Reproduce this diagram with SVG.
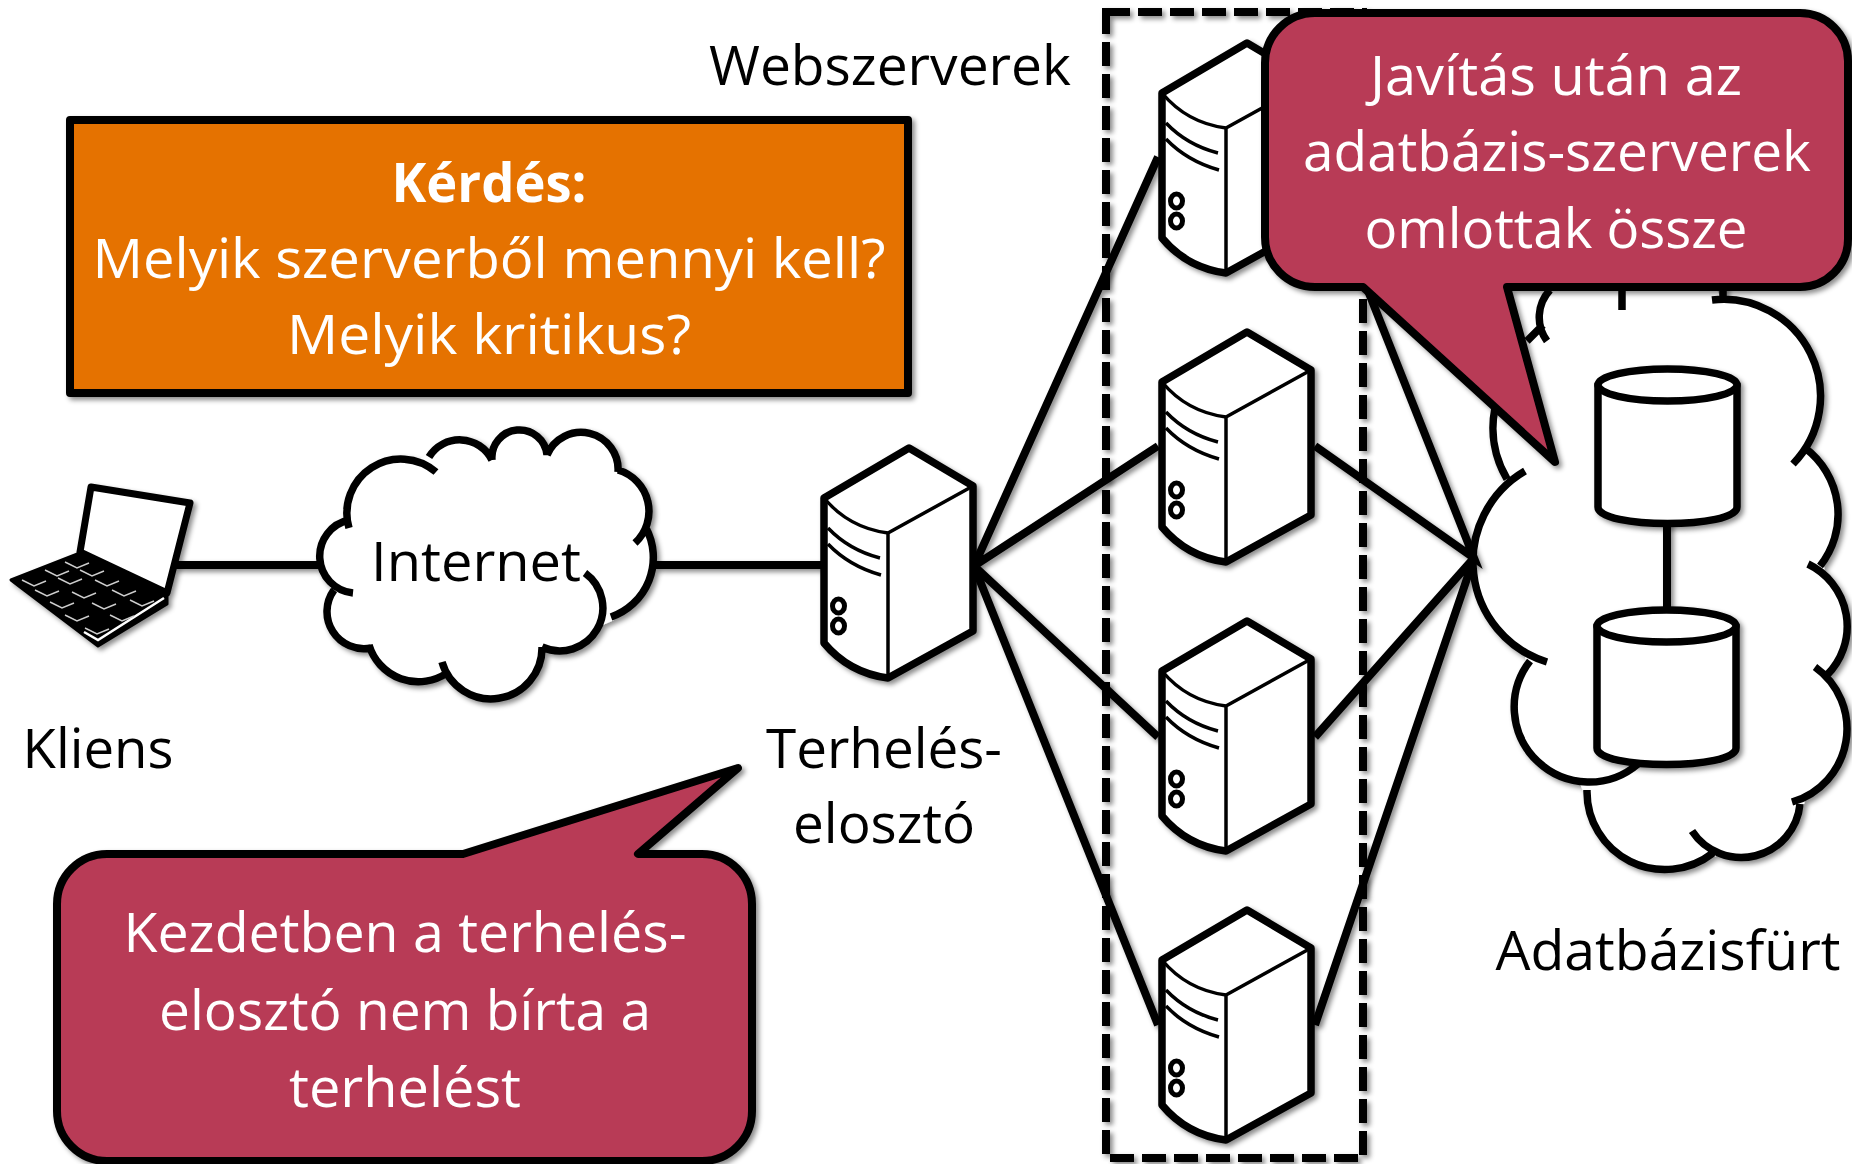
<svg xmlns="http://www.w3.org/2000/svg" xmlns:xlink="http://www.w3.org/1999/xlink" width="1852" height="1164" viewBox="0 0 1852 1164">
<defs>
<filter id="sh" x="-10%" y="-10%" width="125%" height="125%"><feDropShadow dx="3" dy="3" stdDeviation="2.5" flood-color="#000" flood-opacity="0.45"/></filter>
<g id="server">
<path d="M0,0 L85,-50 L149,-12 V133 L64,180 Q25,175 0,145 Z" fill="#fff" stroke="#000" stroke-width="7.5" stroke-linejoin="round"/>
<path d="M0,0 Q25,30 64,35 V180 M64,35 L149,-12" fill="none" stroke="#000" stroke-width="3.5"/>
<path d="M4,30 Q25,52 56,60 M4,46 Q25,68 57,77" fill="none" stroke="#000" stroke-width="3.5"/>
<ellipse cx="14.5" cy="108" rx="6" ry="7" fill="#fff" stroke="#000" stroke-width="5"/>
<ellipse cx="14.5" cy="128" rx="6" ry="7" fill="#fff" stroke="#000" stroke-width="5"/>
</g>
<g id="cyl">
<path d="M-69.5,0 V122 C-69.5,144 69.5,144 69.5,122 V0 Z" fill="#fff" stroke="#000" stroke-width="7.5" stroke-linejoin="round"/>
<ellipse cx="0" cy="0" rx="69.5" ry="16" fill="#fff" stroke="#000" stroke-width="7.5"/>
</g>
</defs>
<style>
text{font-family:"Open Sans","Liberation Sans",sans-serif;font-size:55.5px;text-anchor:middle;fill:#000}
.w{fill:#fff}
.b{font-weight:700;font-size:53px}
.ln{fill:none;stroke:#000;stroke-width:8;stroke-linecap:butt}
.cl{fill:#fff;stroke:#000;stroke-width:7.5;stroke-linecap:butt}
.ci{fill:#fff;stroke:#fff;stroke-width:8;stroke-linejoin:round}
.co{fill:#b83a57;stroke:#000;stroke-width:8;stroke-linejoin:round}
</style>
<rect width="1852" height="1164" fill="#fff"/>

<g id="web-cluster-box" filter="url(#sh)"><rect x="1106" y="12" width="257" height="1146" fill="none" stroke="#000" stroke-width="8" stroke-dasharray="24 8"/></g>

<g id="client" filter="url(#sh)">
<path d="M91,487 L190,503 L167,593 L80,552 Z" fill="#fff" stroke="#000" stroke-width="7" stroke-linejoin="round"/>
<path d="M11,580 L80,553 L167,593 V604 L98,646 Z" fill="#000" stroke="#000" stroke-width="3" stroke-linejoin="round"/>
<path d="M84,632 L98,640 L164,598" fill="none" stroke="#fff" stroke-width="2.5"/>
<path d="M65,562 l12,6 l12,-5 M45,570 l12,6 l12,-5 M80,570 l12,6 l12,-5 M22,580 l12,6 l12,-5 M58,578 l12,6 l12,-5 M95,580 l12,6 l12,-5 M35,590 l12,6 l12,-5 M72,592 l12,6 l12,-5 M112,590 l12,6 l12,-5 M50,602 l12,6 l12,-5 M92,603 l12,6 l12,-5 M130,600 l12,6 l12,-5 M65,615 l12,6 l12,-5 M110,615 l12,6 l12,-5 M85,628 l12,6 l12,-5" fill="none" stroke="#ccc" stroke-width="1.5"/>
</g>

<g id="internet" filter="url(#sh)">
<path class="ci" d="M349,528 L429,457 L492,460 L547,455 L618,470 L646,528 L611,617 L542,647 L447,673 L369,645 L334,590 Z"/>
<path class="cl" d="M349,528 A54,54 0 0 1 436,472 M429,457 A36,36 0 0 1 492,460 M492,460 A27.6,27.6 0 0 1 547,455 M547,455 A37,37 0 0 1 618,472 M618,470 A43,43 0 0 1 635,543 M646,528 A63,63 0 0 1 611,617 M585,573 A43,43 0 0 1 542,647 M542,647 A51,51 0 0 1 442,662 M447,673 A51.5,51.5 0 0 1 369,645 M371,648 A37,37 0 0 1 334,590 M353,593 A37,37 0 0 1 349,520"/>
<text x="476" y="581" textLength="210" lengthAdjust="spacingAndGlyphs">Internet</text>
</g>

<g id="db-cloud" filter="url(#sh)">
<path class="ci" d="M1495,408 L1550,290 H1712 L1805,448 L1820,566 L1827,675 L1800,804 L1713,853 L1587,790 L1530,661 L1507,479 Z"/>
<path class="cl" d="M1712,300 A97,97 0 0 1 1793,464 M1805,448 A83,83 0 0 1 1820,566 M1808,564 A69,69 0 0 1 1827,675 M1815,667 A76,76 0 0 1 1792,802 M1800,804 A59,59 0 0 1 1692,831 M1713,853 A78,78 0 0 1 1587,790 M1638,764 A75,75 0 0 1 1530,661 M1547,662 A105,105 0 0 1 1525,471 M1507,479 A100,100 0 0 1 1495,408 M1527,341 L1543,325 M1547,341 A40,40 0 0 1 1550,290 M1622,285 V310 M1723,285 V296"/>
</g>

<g id="connectors" filter="url(#sh)">
<path class="ln" d="M175,565 H318 M655,565 H824"/>
<path class="ln" d="M1158,157 L974,566 L1158,446 M1158,737 L974,566 L1158,1025"/>
<path class="ln" d="M1315,157 L1474,558 L1315,446 M1315,737 L1474,558 L1315,1025"/>
<path class="ln" d="M1667,521 V612"/>
</g>

<g id="load-balancer" filter="url(#sh)"><use xlink:href="#server" href="#server" x="824" y="498"/></g>
<g id="web-1" filter="url(#sh)"><use xlink:href="#server" href="#server" x="1162" y="93"/></g>
<g id="web-2" filter="url(#sh)"><use xlink:href="#server" href="#server" x="1162" y="382"/></g>
<g id="web-3" filter="url(#sh)"><use xlink:href="#server" href="#server" x="1162" y="671"/></g>
<g id="web-4" filter="url(#sh)"><use xlink:href="#server" href="#server" x="1162" y="960"/></g>

<g id="db-1" filter="url(#sh)"><use xlink:href="#cyl" href="#cyl" x="1667.5" y="385"/></g>
<g id="db-2" filter="url(#sh)"><use xlink:href="#cyl" href="#cyl" x="1666.5" y="626"/></g>

<g id="question" filter="url(#sh)">
<rect x="70" y="120" width="838" height="273" fill="#e57200" stroke="#000" stroke-width="8" stroke-linejoin="round"/>
</g>
<g id="question-text">
<text class="w b" x="489" y="202" textLength="195" lengthAdjust="spacingAndGlyphs">Kérdés:</text>
<text class="w" x="489" y="278" textLength="793" lengthAdjust="spacingAndGlyphs">Melyik szerverből mennyi kell?</text>
<text class="w" x="489" y="354" textLength="404" lengthAdjust="spacingAndGlyphs">Melyik kritikus?</text>
</g>

<g id="callout-top" filter="url(#sh)">
<path class="co" d="M1315,13 H1800 A48,48 0 0 1 1848,61 V239 A48,48 0 0 1 1800,287 H1507 L1555,462 L1363,287 H1315 A50,50 0 0 1 1265,237 V63 A50,50 0 0 1 1315,13 Z"/>
</g>
<g id="callout-top-text">
<text class="w" x="1556" y="95" textLength="372" lengthAdjust="spacingAndGlyphs">Javítás után az</text>
<text class="w" x="1557" y="171" textLength="508" lengthAdjust="spacingAndGlyphs">adatbázis-szerverek</text>
<text class="w" x="1556" y="248" textLength="383" lengthAdjust="spacingAndGlyphs">omlottak össze</text>
</g>

<g id="callout-bottom" filter="url(#sh)">
<path class="co" d="M107,854 H463 L738,768 L638,854 H702 A50,50 0 0 1 752,904 V1111 A50,50 0 0 1 702,1161 H107 A50,50 0 0 1 57,1111 V904 A50,50 0 0 1 107,854 Z"/>
</g>
<g id="callout-bottom-text">
<text class="w" x="405" y="952" textLength="563" lengthAdjust="spacingAndGlyphs">Kezdetben a terhelés-</text>
<text class="w" x="405" y="1030" textLength="492" lengthAdjust="spacingAndGlyphs">elosztó nem bírta a</text>
<text class="w" x="405" y="1107" textLength="232" lengthAdjust="spacingAndGlyphs">terhelést</text>
</g>

<g id="labels">
<text x="890" y="85" textLength="362" lengthAdjust="spacingAndGlyphs">Webszerverek</text>
<text x="98" y="768" textLength="151" lengthAdjust="spacingAndGlyphs">Kliens</text>
<text x="884" y="768" textLength="236" lengthAdjust="spacingAndGlyphs">Terhelés-</text>
<text x="884" y="843" textLength="182" lengthAdjust="spacingAndGlyphs">elosztó</text>
<text x="1668" y="970" textLength="345" lengthAdjust="spacingAndGlyphs">Adatbázisfürt</text>
</g>
</svg>
